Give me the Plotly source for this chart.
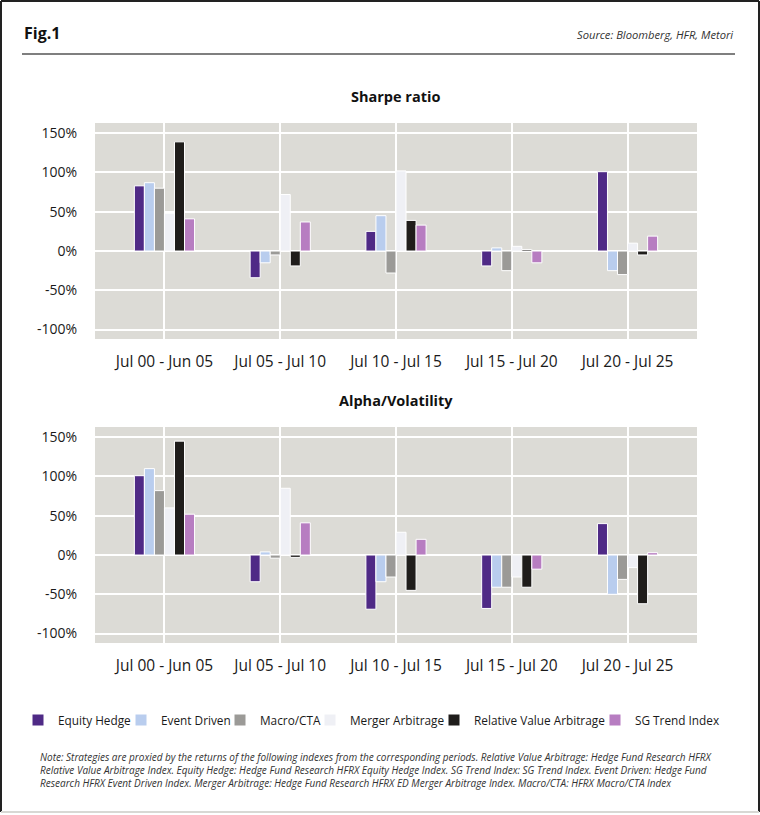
import plotly.graph_objects as go

periods = ["Jul 00 - Jun 05", "Jul 05 - Jul 10", "Jul 10 - Jul 15", "Jul 15 - Jul 20", "Jul 20 - Jul 25"]
series_names = ["Equity Hedge", "Event Driven", "Macro/CTA", "Merger Arbitrage",
                "Relative Value Arbitrage", "SG Trend Index"]

# Sharpe ratio (%)
sharpe_equity_hedge = [83, -34, 25, -19, 101]
sharpe_event_driven = [87, -15, 45, 4, -25]
sharpe_macro_cta = [80, -5, -28, -25, -30]
sharpe_merger_arb = [48, 72, 102, 6, 10]
sharpe_rel_value = [139, -19, 39, 2, -5]
sharpe_sg_trend = [41, 37, 33, -15, 19]

# Alpha/Volatility (%)
alpha_equity_hedge = [101, -34, -69, -68, 40]
alpha_event_driven = [110, 4, -34, -41, -50]
alpha_macro_cta = [82, -4, -28, -41, -31]
alpha_merger_arb = [60, 85, 29, -28, -16]
alpha_rel_value = [145, -3, -45, -41, -62]
alpha_sg_trend = [52, 41, 20, -18, 3]

y_ticks = [-100, -50, 0, 50, 100, 150]
y_tick_text = ["-100%", "-50%", "0%", "50%", "100%", "150%"]

colors = ["#4f2a86", "#b9cdee", "#9b9a97", "#eff0f5", "#1f1d1b", "#b77dc1"]

sharpe = [sharpe_equity_hedge, sharpe_event_driven, sharpe_macro_cta,
          sharpe_merger_arb, sharpe_rel_value, sharpe_sg_trend]
alpha = [alpha_equity_hedge, alpha_event_driven, alpha_macro_cta,
         alpha_merger_arb, alpha_rel_value, alpha_sg_trend]

FONT = "Open Sans"
W, H = 760, 815


def px_x(p):
    return p / W


def px_y(p):
    return 1 - p / H


legend_names = ["legend", "legend2", "legend3", "legend4", "legend5", "legend6"]
legend_text_start = [57, 160, 259, 349, 473, 634]

fig = go.Figure()
for i, name in enumerate(series_names):
    fig.add_trace(go.Bar(x=periods, y=sharpe[i], name=name, marker_color=colors[i],
                         marker_line=dict(color="white", width=1),
                         xaxis="x", yaxis="y", legend=legend_names[i], showlegend=True))
for i, name in enumerate(series_names):
    fig.add_trace(go.Bar(x=periods, y=alpha[i], name=name, marker_color=colors[i],
                         marker_line=dict(color="white", width=1),
                         xaxis="x2", yaxis="y2", showlegend=False))

yrange = [-112, 163]
common_x = dict(showgrid=True, gridcolor="white", gridwidth=1.5, zeroline=False,
                showline=False, ticks="", tickfont=dict(family=FONT, size=15.5, color="#1a1a1a"),
                range=[-0.6, 4.6], ticklabelstandoff=11)
common_y = dict(showgrid=True, gridcolor="white", gridwidth=1.5, zeroline=True,
                zerolinecolor="white", zerolinewidth=1.5, showline=False, ticks="",
                tickvals=y_ticks, ticktext=y_tick_text, range=yrange,
                tickfont=dict(family=FONT, size=14, color="#1a1a1a"), ticklabelstandoff=17)

fig.update_layout(
    width=W, height=H,
    margin=dict(l=0, r=0, t=0, b=0),
    paper_bgcolor="white",
    plot_bgcolor="#dcdbd6",
    barmode="group", bargap=0.48, bargroupgap=0,
    xaxis=dict(domain=[px_x(95), px_x(697)], anchor="y", **common_x),
    yaxis=dict(domain=[px_y(339), px_y(123)], anchor="x", **common_y),
    xaxis2=dict(domain=[px_x(95), px_x(697)], anchor="y2", **common_x),
    yaxis2=dict(domain=[px_y(643), px_y(427)], anchor="x2", **common_y),
    showlegend=True,
    font=dict(family=FONT),
)

for i, ln in enumerate(legend_names):
    fig.update_layout({ln: dict(orientation="h", x=px_x(legend_text_start[i] - 39), xanchor="left",
                                y=px_y(720), yanchor="middle",
                                font=dict(family=FONT, size=11.8, color="#1a1a1a"),
                                itemwidth=30, bgcolor="rgba(0,0,0,0)", borderwidth=0)})

annotations = [
    dict(text="<b>Fig.1</b>", x=px_x(22), y=px_y(33), xanchor="left", yanchor="middle",
         font=dict(family=FONT, size=16, color="#111")),
    dict(text="<i>Source: Bloomberg, HFR, Metori</i>", x=px_x(735), y=px_y(35),
         xanchor="right", yanchor="middle", font=dict(family=FONT, size=11.2, color="#333")),
    dict(text="<b>Sharpe ratio</b>", x=px_x(396), y=px_y(97), xanchor="center", yanchor="middle",
         font=dict(family=FONT, size=14.5, color="#111")),
    dict(text="<b>Alpha/Volatility</b>", x=px_x(396), y=px_y(400), xanchor="center", yanchor="middle",
         font=dict(family=FONT, size=14.5, color="#111")),
    dict(text=("<i>Note: Strategies are proxied by the returns of the following indexes from the corresponding periods. "
               "Relative Value Arbitrage: Hedge Fund Research HFRX<br>Relative Value Arbitrage Index. Equity Hedge: "
               "Hedge Fund Research HFRX Equity Hedge Index. SG Trend Index: SG Trend Index. Event Driven: Hedge Fund<br>"
               "Research HFRX Event Driven Index. Merger Arbitrage: Hedge Fund Research HFRX ED Merger Arbitrage Index. "
               "Macro/CTA: HFRX Macro/CTA Index</i>"),
         x=px_x(38), y=px_y(770), xanchor="left", yanchor="middle", align="left",
         font=dict(family=FONT, size=10, color="#333")),
]
for a in annotations:
    a.update(xref="paper", yref="paper", showarrow=False)
fig.update_layout(annotations=annotations)

fig.update_layout(shapes=[
    dict(type="line", xref="paper", yref="paper", x0=px_x(22), x1=px_x(735), y0=px_y(54), y1=px_y(54),
         line=dict(color="#555", width=1.5)),
    dict(type="line", xref="paper", yref="paper", x0=px_x(1), x1=px_x(1), y0=px_y(812), y1=px_y(1),
         line=dict(color="#222", width=2)),
    dict(type="line", xref="paper", yref="paper", x0=px_x(759), x1=px_x(759), y0=px_y(812), y1=px_y(1),
         line=dict(color="#222", width=2)),
    dict(type="line", xref="paper", yref="paper", x0=px_x(1), x1=px_x(759), y0=px_y(1), y1=px_y(1),
         line=dict(color="#222", width=2)),
    dict(type="line", xref="paper", yref="paper", x0=px_x(1), x1=px_x(759), y0=px_y(812), y1=px_y(812),
         line=dict(color="#d8d8d4", width=2)),
])

fig.write_html("out.html", config={"displayModeBar": False},
               post_script="document.body.style.margin='0';")
